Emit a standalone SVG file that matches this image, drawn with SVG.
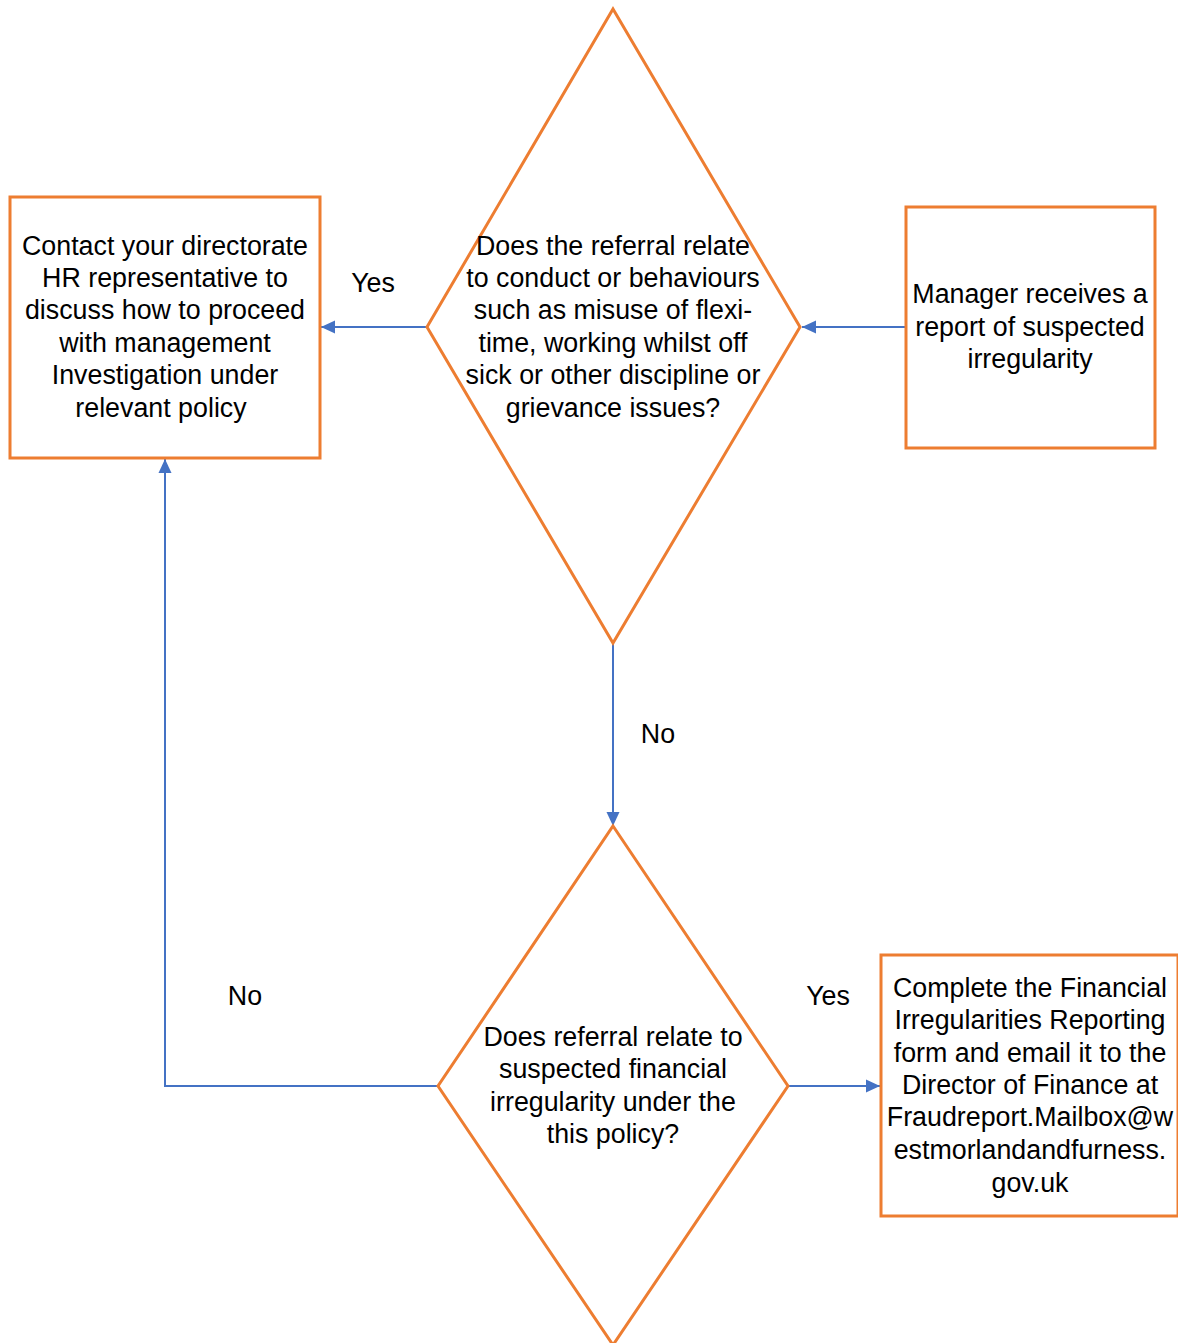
<svg xmlns="http://www.w3.org/2000/svg" width="1178" height="1343" viewBox="0 0 1178 1343">
<style>
.shape{fill:#ffffff;stroke:#ED7D31;stroke-width:3}
.t{font-family:"Liberation Sans",Arial,sans-serif;font-size:26.8px;fill:#000;text-anchor:middle}
.c{fill:none;stroke:#4472C4;stroke-width:2}
</style>
<defs>
<marker id="ah" markerWidth="14" markerHeight="14" refX="14" refY="7" orient="auto" markerUnits="userSpaceOnUse" viewBox="0 0 14 14">
<path d="M0,0.5 L14,7 L0,13.5 Z" fill="#4472C4"/>
</marker>
</defs>
<rect width="1178" height="1343" fill="#ffffff"/>
<g id="connectors">
<line class="c" x1="906" y1="327" x2="802" y2="327" marker-end="url(#ah)"/>
<line class="c" x1="427" y1="327" x2="321" y2="327" marker-end="url(#ah)"/>
<line class="c" x1="613" y1="643" x2="613" y2="826" marker-end="url(#ah)"/>
<line class="c" x1="788" y1="1086" x2="880" y2="1086" marker-end="url(#ah)"/>
<polyline class="c" points="438,1086 165,1086 165,459" marker-end="url(#ah)"/>
<text class="t" x="373" y="292">Yes</text>
<text class="t" x="658" y="743">No</text>
<text class="t" x="245" y="1005">No</text>
<text class="t" x="828" y="1005">Yes</text>
</g>
<g id="hr-box">
<rect class="shape" x="10" y="197" width="310" height="261"/>
<text class="t" x="165" y="255">Contact your directorate</text>
<text class="t" x="165" y="287">HR representative to</text>
<text class="t" x="165" y="319">discuss how to proceed</text>
<text class="t" x="165" y="352">with management</text>
<text class="t" x="165" y="384">Investigation under</text>
<text class="t" x="161" y="417">relevant policy</text>
</g>
<g id="decision1">
<polygon class="shape" points="613,9 800,327 613,643 427,327"/>
<text class="t" x="613" y="255">Does the referral relate</text>
<text class="t" x="613" y="287">to conduct or behaviours</text>
<text class="t" x="613" y="319">such as misuse of flexi-</text>
<text class="t" x="613" y="352">time, working whilst off</text>
<text class="t" x="613" y="384">sick or other discipline or</text>
<text class="t" x="613" y="417">grievance issues?</text>
</g>
<g id="manager-box">
<rect class="shape" x="906" y="207" width="249" height="241"/>
<text class="t" x="1030" y="303">Manager receives a</text>
<text class="t" x="1030" y="336">report of suspected</text>
<text class="t" x="1030" y="368">irregularity</text>
</g>
<g id="decision2">
<polygon class="shape" points="613,826 788,1086 613,1345 438,1086"/>
<text class="t" x="613" y="1046">Does referral relate to</text>
<text class="t" x="613" y="1078">suspected financial</text>
<text class="t" x="613" y="1111">irregularity under the</text>
<text class="t" x="613" y="1143">this policy?</text>
</g>
<g id="finance-box">
<rect class="shape" x="881" y="955" width="297" height="261"/>
<text class="t" x="1030" y="997">Complete the Financial</text>
<text class="t" x="1030" y="1029">Irregularities Reporting</text>
<text class="t" x="1030" y="1062">form and email it to the</text>
<text class="t" x="1030" y="1094">Director of Finance at</text>
<text class="t" x="1030" y="1126">Fraudreport.Mailbox@w</text>
<text class="t" x="1030" y="1159">estmorlandandfurness.</text>
<text class="t" x="1030" y="1192">gov.uk</text>
</g>
</svg>
